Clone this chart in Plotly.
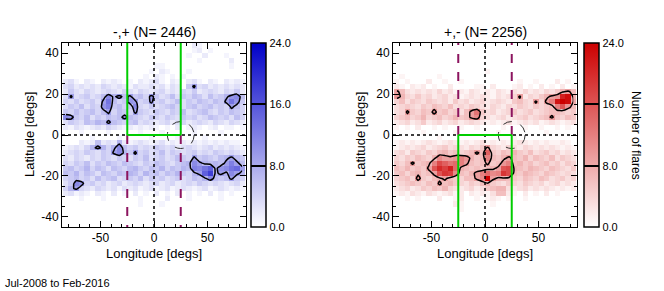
import plotly.graph_objects as go

# ---------------- data ----------------
# 5-degree longitude bins (-85..85), 2.5-degree latitude bins (45..-45)
LON_EDGES = [-85 + 5 * i for i in range(35)]
LAT_EDGES = [45 - 2.5 * i for i in range(37)]
LON_CENTERS = [(LON_EDGES[i] + LON_EDGES[i + 1]) / 2 for i in range(34)]
LAT_CENTERS = [(LAT_EDGES[i] + LAT_EDGES[i + 1]) / 2 for i in range(36)]

# counts per bin, one string per latitude row (north -> south),
# one base-36 character per longitude bin (0-9, a=10 ... o=24)
ZERO = "0000000000 0000000000 0000000000 0000"
COUNTS_MINUS_PLUS = [
    "0000000000 0000000000 0000210000 0000",
    "0000000000 0000000000 0000120100 0000",
    "0000000000 0000000000 0001002000 1000",
    "0000000000 0000000000 0000010000 0200",
    "0000000000 0000000110 0000000000 0100",
    "0000000000 0000001021 0001000000 0000",
    "0000000000 0000010210 1010000000 0000",
    "2310210212 1010212310 2102310210 2121",
    "3423232432 3213223231 3205934232 3232",
    "2532432343 2432432342 3243523432 4352",
    "39345346b7 a69564a534 6354653645 7ab6",
    "43534539d6 45a9459453 4635465465 9da5",
    "3546354ac5 645b435345 6435645645 4964",
    "5464564694 6549543543 5463456435 4654",
    "ba54635465 6a65435435 4354534654 5364",
    "3543657696 5456343234 2342343243 2432",
    "2132123243 2121212101 0201210120 1101",
    "0001000010 0000100010 0000100001 0000",
    "0000010000 1000001000 0100001000 0000",
    "0002126232 7212321231 2121212121 2110",
    "1232479747 b645343543 4234323423 2321",
    "2343543549 b759453463 5434534354 3432",
    "3243243543 5435463453 4654956546 7965",
    "4354635465 4654354654 3567b97676 9c96",
    "5645746536 5467546574 6576cbdf7a bde9",
    "6574653654 6576475646 575479fi79 7b97",
    "4564536456 3454635453 4534657b65 6954",
    "35ba453423 4234323423 4234354343 2342",
    "4794324323 1323123123 1232123123 2121",
    "2312102102 0102010201 0201010201 0100",
    "0001000100 0000100002 0001000001 0000",
    "0000000000 0000100010 0000000000 0000",
    ZERO, ZERO, ZERO, ZERO,
]
COUNTS_PLUS_MINUS = [
    ZERO, ZERO, ZERO, ZERO, ZERO,
    "0000000000 0000000100 0000000000 0000",
    "0100000010 0000000000 0000000000 0000",
    "1010002001 0010000000 0001001000 2010",
    "2102120100 2000011020 0012010201 0201",
    "9632323242 3121321213 2132423243 5796",
    "a743534234 2312323213 2349243579 aln7",
    "4635435434 2534234234 325643949c mon8",
    "3454354654 6343543243 2435435456 cga6",
    "3495465a56 45369d5342 3453453456 6545",
    "4564574564 57569b4323 4234534569 5465",
    "2342352342 3423432121 2312323123 2123",
    "1010200101 0010010000 1000100100 1010",
    "0000010000 0100000001 0000000010 0000",
    "0000000010 0000000000 0010000000 0000",
    "1212123212 3212123121 2123212121 1210",
    "1232342345 3432435943 2432432323 2121",
    "3425435467 5645696f54 6575463453 4232",
    "43546547b9 9aca756c65 7965746546 3543",
    "5469567chf dec9656956 ac67564564 5354",
    "6575659gki le76565679 gh76576546 5435",
    "56467569gj ib6579cebc jh65765465 4343",
    "4564a54679 654669bo97 7654654653 4534",
    "3456546596 7543546754 3543543423 4232",
    "2342354657 4323423567 7323423232 1212",
    "1213213212 3120212136 6210201020 1000",
    "0010100020 0120010121 0100100000 0000",
    "0000000000 0210000010 0000000000 0000",
    "0000000000 0010000000 0000000000 0000",
    ZERO, ZERO, ZERO,
]
TITLES = ["-,+ (N= 2446)", "+,- (N= 2256)"]
CBAR_TICKS = [0, 8, 16, 24]
CBAR_TICKTEXT = ["0.0", "8.0", "16.0", "24.0"]
CONTOUR_LEVEL = 8
X_TICKS = [-50, 0, 50]
X_TICKTEXT = ["-50", "0", "50"]
Y_TICKS = [-40, -20, 0, 20, 40]
Y_TICKTEXT = ["-40", "-20", "0", "20", "40"]
DATE_RANGE = "Jul-2008 to Feb-2016"


def parse(rows):
    out = []
    for r in rows:
        s = r.replace(" ", "")
        vals = [int(ch, 36) for ch in s][:34]
        vals += [0] * (34 - len(vals))
        out.append(vals)
    return out


Z1 = parse(COUNTS_MINUS_PLUS)
Z2 = parse(COUNTS_PLUS_MINUS)

# ---------------- layout helpers ----------------
W, H = 664, 291
FONT = "Liberation Sans, Arial, Helvetica, sans-serif"


def fx(p):
    return p / W


def fy(p):
    return 1 - p / H


PLOT_TOP, PLOT_BOT = 43, 227
CB_THICK = 15
PANELS = [
    dict(x0=62, x1=246, cb=251, z=Z1, scale=[[0, "rgb(255,255,255)"], [1, "rgb(0,0,200)"]],
         xa="x", ya="y", green_up=True),
    dict(x0=393, x1=577, cb=584, z=Z2, scale=[[0, "rgb(255,255,255)"], [1, "rgb(205,0,0)"]],
         xa="x2", ya="y2", green_up=False),
]

fig = go.Figure()
shapes = []
annotations = []

for i, p in enumerate(PANELS):
    fig.add_trace(go.Heatmap(
        z=p["z"], x=LON_CENTERS, y=LAT_CENTERS, zmin=0, zmax=24,
        colorscale=p["scale"], xaxis=p["xa"], yaxis=p["ya"], hoverinfo="skip",
        colorbar=dict(
            x=fx(p["cb"]), xanchor="left", y=fy(PLOT_TOP), yanchor="top",
            len=PLOT_BOT - PLOT_TOP, lenmode="pixels", thickness=CB_THICK, thicknessmode="pixels",
            xpad=0, ypad=0, outlinewidth=1.5, outlinecolor="black",
            tickvals=CBAR_TICKS, ticktext=CBAR_TICKTEXT, ticks="inside",
            ticklen=CB_THICK, tickwidth=1.5, tickcolor="black",
            tickfont=dict(family=FONT, size=11, color="black"),
        ),
    ))
    fig.add_trace(go.Contour(
        z=p["z"], x=LON_CENTERS, y=LAT_CENTERS, xaxis=p["xa"], yaxis=p["ya"],
        contours=dict(start=CONTOUR_LEVEL, end=CONTOUR_LEVEL, size=1, coloring="none"),
        line=dict(color="black", width=1.5, smoothing=0.3), showscale=False, hoverinfo="skip",
    ))

    xr, yr = p["xa"], p["ya"]
    # dotted axes through zero
    shapes.append(dict(type="line", xref=xr, yref=yr, x0=0, x1=0, y0=-45, y1=45,
                       line=dict(color="black", width=1.5, dash="dot")))
    shapes.append(dict(type="line", xref=xr, yref=yr, x0=-86, x1=86, y0=0, y1=0,
                       line=dict(color="black", width=1.5, dash="dot")))
    # dashed circle
    shapes.append(dict(type="circle", xref=xr, yref=yr, x0=12.5, x1=37.5, y0=-6.6, y1=6.6,
                       line=dict(color="rgb(50,50,50)", width=1, dash="dash")))
    green = dict(color="rgb(0,205,0)", width=2)
    purple = dict(color="rgb(140,20,95)", width=2, dash="dash")
    gy = 45 if p["green_up"] else -45
    py_ = -45 if p["green_up"] else 45
    for xv in (-25, 25):
        shapes.append(dict(type="line", xref=xr, yref=yr, x0=xv, x1=xv, y0=0, y1=gy, line=green))
        shapes.append(dict(type="line", xref=xr, yref=yr, x0=xv, x1=xv, y0=0, y1=py_, line=purple))
    shapes.append(dict(type="line", xref=xr, yref=yr, x0=-25, x1=25, y0=0, y1=0, line=green))

    cx = (p["x0"] + p["x1"]) / 2
    annotations.append(dict(text=TITLES[i], x=fx(cx), y=fy(32), xref="paper", yref="paper",
                            showarrow=False, xanchor="center", yanchor="middle",
                            font=dict(family=FONT, size=14, color="black")))
    annotations.append(dict(text="Longitude [degs]", x=fx(cx), y=fy(253), xref="paper", yref="paper",
                            showarrow=False, xanchor="center", yanchor="middle",
                            font=dict(family=FONT, size=13, color="black")))
    annotations.append(dict(text="Latitude [degs]", x=fx(p["x0"] - 33), y=fy(135), xref="paper",
                            yref="paper", showarrow=False, textangle=-90, xanchor="center",
                            yanchor="middle", font=dict(family=FONT, size=13, color="black")))

annotations.append(dict(text="Number of flares", x=fx(636), y=fy(135), xref="paper", yref="paper",
                        showarrow=False, textangle=90, xanchor="center", yanchor="middle",
                        font=dict(family=FONT, size=12, color="black")))
annotations.append(dict(text=DATE_RANGE, x=fx(3), y=fy(283), xref="paper", yref="paper",
                        showarrow=False, xanchor="left", yanchor="middle",
                        font=dict(family=FONT, size=11, color="black")))

axis_common = dict(showgrid=False, zeroline=False, showline=True, linecolor="black", linewidth=1,
                   mirror="allticks", ticks="inside", ticklen=6, tickcolor="black",
                   tickfont=dict(family=FONT, size=12, color="black"))
layout_axes = {}
for i, p in enumerate(PANELS):
    sfx = "" if i == 0 else "2"
    layout_axes["xaxis" + sfx] = dict(
        axis_common, domain=[fx(p["x0"]), fx(p["x1"])], range=[-86, 86],
        tickvals=X_TICKS, ticktext=X_TICKTEXT, anchor="y" + sfx,
        minor=dict(dtick=10, tick0=0, ticks="inside", ticklen=3, tickcolor="black"))
    layout_axes["yaxis" + sfx] = dict(
        axis_common, domain=[fy(PLOT_BOT), fy(PLOT_TOP)], range=[-45, 45],
        tickvals=Y_TICKS, ticktext=Y_TICKTEXT, anchor="x" + sfx,
        minor=dict(dtick=5, tick0=0, ticks="inside", ticklen=3, tickcolor="black"))

fig.update_layout(
    width=W, height=H, margin=dict(l=0, r=0, t=0, b=0),
    paper_bgcolor="white", plot_bgcolor="white", showlegend=False,
    font=dict(family=FONT, color="black"),
    shapes=shapes, annotations=annotations, **layout_axes,
)

fig.write_html("out.html", config={"displayModeBar": False},
               post_script="document.body.style.margin='0';document.body.style.overflow='hidden';")
